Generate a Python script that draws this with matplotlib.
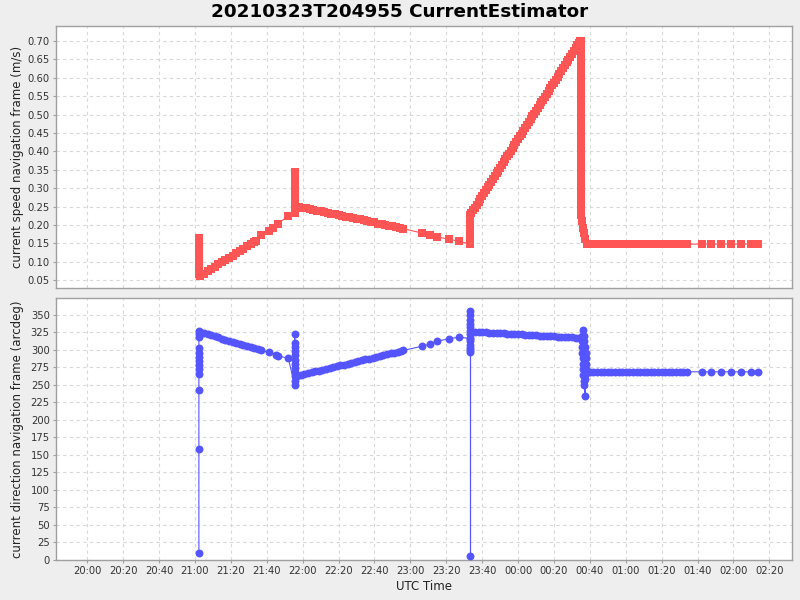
import matplotlib
matplotlib.use("Agg")
import matplotlib.pyplot as plt
import matplotlib.dates as mdates
import pandas as pd
import numpy as np

plt.rcParams['font.family'] = ['DejaVu Sans']

TITLE = "20210323T204955 CurrentEstimator"
BASE = pd.Timestamp("2021-03-23 20:00:00")

# ---- current speed (m/s): minutes after 20:00 UTC, value ----
speed_min = (
    [62.2] * 11
    + [63, 65, 67, 69, 71, 73, 75, 77, 79, 81, 83, 85, 87, 89, 91, 93, 94]
    + [96.7, 101, 103.4, 106, 112]
    + [115.5] * 9
    + [118, 120, 122, 124, 126, 128, 130, 132, 134, 136, 138, 140, 142, 144, 146,
       148, 150, 152, 154, 156, 158, 160, 162, 164, 166, 168, 170, 172, 174, 176]
    + [186.5, 191, 194.8, 201.5, 207]
    + [213.5] * 8
    + [214, 215, 216, 217, 218, 219, 220, 221, 222, 223, 224, 225, 226, 227, 228,
       229, 230, 231, 232, 233, 234, 235, 236, 237, 238, 239, 240, 241, 242, 243,
       244, 245, 246, 247, 248, 249, 250, 251, 252, 253, 254, 255, 256, 257, 258,
       259, 260, 261, 262, 263, 264, 265, 266, 267, 268, 269, 270, 271, 272, 273,
       274, 274.5]
    + [274.9] * 48
    + [275.5, 276.2, 276.9, 277.5, 278.2]
    + [280, 282, 284, 286, 288, 290, 292, 294, 296, 298, 300, 302, 304, 306, 308,
       310, 312, 314, 316, 318, 320, 322, 324, 326, 328, 330, 332, 334]
    + [342.4, 347.5, 353.0, 358.6, 364.2, 370.0, 373.9]
)
speed_val = (
    [0.165, 0.155, 0.145, 0.135, 0.125, 0.115, 0.105, 0.095, 0.085, 0.075, 0.068]
    + [0.062, 0.068, 0.074, 0.080, 0.086, 0.093, 0.099, 0.105, 0.111, 0.117, 0.123,
       0.129, 0.135, 0.142, 0.148, 0.154, 0.157]
    + [0.172, 0.185, 0.192, 0.202, 0.225]
    + [0.232, 0.245, 0.26, 0.275, 0.29, 0.305, 0.32, 0.335, 0.344]
    + [0.249, 0.247, 0.245, 0.243, 0.241, 0.239, 0.237, 0.235, 0.233, 0.231, 0.229,
       0.227, 0.225, 0.223, 0.221, 0.219, 0.217, 0.215, 0.213, 0.211, 0.209, 0.207,
       0.204, 0.202, 0.200, 0.198, 0.196, 0.194, 0.192, 0.190]
    + [0.178, 0.172, 0.168, 0.161, 0.156]
    + [0.148, 0.165, 0.178, 0.185, 0.195, 0.21, 0.222, 0.228]
    + [0.232, 0.240, 0.247, 0.255, 0.263, 0.271, 0.278, 0.286, 0.294, 0.302, 0.309,
       0.317, 0.325, 0.333, 0.340, 0.348, 0.356, 0.364, 0.371, 0.379, 0.387, 0.394,
       0.402, 0.410, 0.417, 0.425, 0.433, 0.441, 0.448, 0.456, 0.464, 0.472, 0.479,
       0.487, 0.495, 0.503, 0.510, 0.518, 0.526, 0.534, 0.541, 0.549, 0.556, 0.564,
       0.572, 0.580, 0.587, 0.595, 0.603, 0.611, 0.618, 0.626, 0.634, 0.642, 0.649,
       0.657, 0.665, 0.673, 0.680, 0.688, 0.696, 0.700]
    + [0.70, 0.69, 0.68, 0.67, 0.66, 0.65, 0.64, 0.63, 0.62, 0.61, 0.60, 0.59, 0.58,
       0.57, 0.56, 0.55, 0.54, 0.53, 0.52, 0.51, 0.50, 0.49, 0.48, 0.47, 0.46, 0.45,
       0.44, 0.43, 0.42, 0.41, 0.40, 0.39, 0.38, 0.37, 0.36, 0.35, 0.34, 0.33, 0.32,
       0.31, 0.30, 0.29, 0.28, 0.27, 0.26, 0.25, 0.24, 0.228]
    + [0.21, 0.193, 0.177, 0.162, 0.149]
    + [0.148] * 28
    + [0.148] * 7
)

# ---- current direction (arcdeg): minutes after 20:00 UTC, value ----
dir_min = (
    [62.2] * 13
    + [63, 65, 67, 69, 71, 73, 75, 77, 79, 81, 83, 85, 87, 89, 91, 93, 95, 97]
    + [101, 105, 106.5, 112]
    + [115.5] * 12
    + [117, 119, 121, 123, 125, 127, 129, 131, 133, 135, 137, 139, 141, 143, 145,
       147, 149, 151, 153, 155, 157, 159, 161, 163, 165, 167, 169, 171, 173, 175, 176]
    + [186.5, 191, 194.8, 201.5, 207]
    + [213.5] * 15
    + [214, 216, 218, 220, 222, 224, 226, 228, 230, 232, 234, 236, 238, 240, 242,
       244, 246, 248, 250, 252, 254, 256, 258, 260, 262, 264, 266, 268, 270, 272, 274]
    + [275.5, 276.0, 276.5, 275.4, 276.9, 275.6, 277.3, 275.8, 277.6, 276.0, 277.8,
       276.2, 277.8, 276.3, 277.6, 276.4, 277.3, 276.5, 277.0, 277.3, 277.4, 278.0,
       279.0]
    + [280, 282, 284, 286, 288, 290, 292, 294, 296, 298, 300, 302, 304, 306, 308,
       310, 312, 314, 316, 318, 320, 322, 324, 326, 328, 330, 332, 334]
    + [342.4, 347.5, 353.0, 358.6, 364.2, 370.0, 373.9]
)
dir_val = (
    [10, 158, 243, 266, 272, 278, 284, 290, 296, 302, 318, 322, 327]
    + [325, 323.5, 322, 320.5, 319, 317.5, 316, 314.5, 313, 311.5, 310, 308.5, 307,
       305.5, 304, 302.5, 301, 299]
    + [296.5, 293, 291, 288]
    + [250, 256, 262, 268, 274, 280, 286, 292, 298, 304, 310, 323]
    + [263, 264.2, 265.4, 266.7, 267.9, 269.1, 270.3, 271.5, 272.8, 274, 275.2, 276.4,
       277.6, 278.9, 280.1, 281.3, 282.5, 283.7, 285, 286.2, 287.4, 288.6, 289.8,
       291.1, 292.3, 293.5, 294.7, 295.9, 297.2, 298.4, 299]
    + [305, 308.4, 312.3, 315.6, 318]
    + [316, 300, 5, 297, 302, 307, 312, 317, 322, 327, 332, 337, 342, 349, 356]
    + [326, 325.7, 325.4, 325.1, 324.8, 324.5, 324.2, 323.9, 323.6, 323.3, 323,
       322.7, 322.4, 322.1, 321.8, 321.5, 321.2, 320.9, 320.6, 320.3, 320, 319.7,
       319.4, 319.1, 318.8, 318.5, 318.2, 317.9, 317.6, 317.3, 317]
    + [320, 327.6, 320, 312, 312, 304, 304, 296, 296, 288, 288, 280, 280, 272, 272,
       264, 264, 256, 250, 234.7, 258, 268, 268.5]
    + [268.5] * 28
    + [268.5] * 7
)

x_tick_minutes = list(range(0, 381, 20))
speed_ticks = [0.05, 0.10, 0.15, 0.20, 0.25, 0.30, 0.35, 0.40, 0.45, 0.50, 0.55,
               0.60, 0.65, 0.70]
dir_ticks = list(range(0, 351, 25))

RED = "#FF5555"
BLUE = "#5555FF"
BG = "#EEEEEE"
GRID = "#D8D8D8"
SPINE = "#A0A0A0"
TICKC = "#333333"


def to_time(m):
    return BASE + pd.to_timedelta(np.asarray(m, dtype=float), unit="min")


fig = plt.figure(figsize=(8, 6), dpi=100, facecolor=BG)
ax1 = fig.add_axes([0.07, 0.52, 0.92, 0.4367])
ax2 = fig.add_axes([0.07, 0.0667, 0.92, 0.4367], sharex=ax1)

ax1.plot(to_time(speed_min), speed_val, color=RED, lw=0.8, marker="s",
         markersize=5.1, markeredgewidth=0, zorder=3)
ax2.plot(to_time(dir_min), dir_val, color=BLUE, lw=0.8, marker="o",
         markersize=5.7, markeredgewidth=0, zorder=3)

xmin = BASE + pd.Timedelta(minutes=-17.4)
xmax = BASE + pd.Timedelta(minutes=392.6)
ax1.set_xlim(xmin, xmax)
ax1.set_ylim(0.0287, 0.741)
ax2.set_ylim(0, 373.9)

for ax in (ax1, ax2):
    ax.set_facecolor("white")
    ax.set_xticks(to_time(x_tick_minutes))
    ax.xaxis.set_major_formatter(mdates.DateFormatter("%H:%M"))
    ax.grid(True, color=GRID, linestyle=(0, (3, 3)), linewidth=0.8)
    ax.set_axisbelow(True)
    for s in ax.spines.values():
        s.set_color(SPINE)
        s.set_linewidth(1.0)
    ax.tick_params(axis="both", colors=SPINE, labelcolor=TICKC, labelsize=7.2,
                   length=2.5, width=0.8, pad=2)

ax1.set_yticks(speed_ticks)
ax1.set_yticklabels([f"{v:.2f}" for v in speed_ticks])
ax2.set_yticks(dir_ticks)
ax1.tick_params(axis="x", labelbottom=False, length=0)

ax1.set_ylabel("current speed navigation frame (m/s)", fontsize=8.5, color="#222222")
ax2.set_ylabel("current direction navigation frame (arcdeg)", fontsize=8.5,
               color="#222222")
ax2.set_xlabel("UTC Time", fontsize=8.5, color="#222222", labelpad=3)
ax1.yaxis.set_label_coords(-0.044, 0.5)
ax2.yaxis.set_label_coords(-0.044, 0.5)

fig.text(0.5, 0.98, TITLE, ha="center", va="center", fontsize=13.2,
         fontweight="bold", color="black")

fig.savefig("out.png", dpi=100, facecolor=BG)
